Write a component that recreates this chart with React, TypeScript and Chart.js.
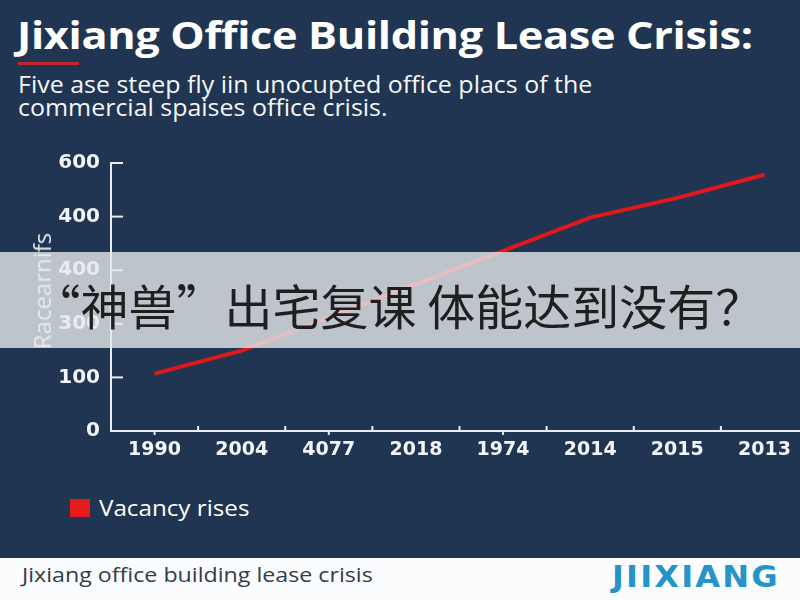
import React, { useEffect, useRef } from "react";
import { Chart, registerables } from "chart.js";

Chart.register(...registerables);

const categories = ["1990", "2004", "4077", "2018", "1974", "2014", "2015", "2013"];
const yTickLabels = ["0", "100", "300", "400", "400", "600"];
const vacancyRises = [1.07, 1.5, 2.12, 2.74, 3.36, 3.98, 4.35, 4.78];

const NAVY = "#1f3551";
const AXIS = "#e9edf2";

const innerTicks = {
  id: "innerTicks",
  afterDraw(chart: any) {
    const { ctx } = chart;
    const xs = chart.scales.x;
    const ys = chart.scales.y;
    ctx.save();
    ctx.strokeStyle = AXIS;
    ctx.lineWidth = 2;
    ys.ticks.forEach((t: any) => {
      const y = ys.getPixelForValue(t.value);
      ctx.beginPath();
      ctx.moveTo(xs.left, y);
      ctx.lineTo(xs.left + 12, y);
      ctx.stroke();
    });
    const bottom = xs.top;
    for (let i = 0; i < categories.length - 1; i++) {
      const x = (xs.getPixelForValue(i) + xs.getPixelForValue(i + 1)) / 2;
      ctx.beginPath();
      ctx.moveTo(x, bottom);
      ctx.lineTo(x, bottom - 5);
      ctx.stroke();
    }
    for (let i = 0; i <= 4; i += 2) {
      const x = xs.getPixelForValue(i);
      ctx.beginPath();
      ctx.moveTo(x, bottom);
      ctx.lineTo(x, bottom + 4);
      ctx.stroke();
    }
    ctx.restore();
  },
};

function LineChart() {
  const ref = useRef<HTMLCanvasElement | null>(null);
  useEffect(() => {
    if (!ref.current) return;
    const chart = new Chart(ref.current, {
      type: "line",
      data: {
        labels: categories,
        datasets: [
          {
            label: "Vacancy rises",
            data: vacancyRises,
            borderColor: "#e3161b",
            backgroundColor: "#e3161b",
            borderWidth: 4,
            pointRadius: 0,
            tension: 0,
          },
        ],
      },
      options: {
        animation: false,
        responsive: true,
        maintainAspectRatio: false,
        layout: { padding: { top: 22, right: 0, left: 0, bottom: 0 } },
        plugins: { legend: { display: false }, tooltip: { enabled: false } },
        scales: {
          x: {
            offset: true,
            grid: { display: false, drawTicks: false },
            border: { display: true, color: AXIS, width: 2 },
            ticks: {
              color: "#f2f4f7",
              padding: 8,
              font: { family: "DejaVu Sans", weight: "bold", size: 19 },
              maxRotation: 0,
              autoSkip: false,
            },
            afterFit(scale: any) {
              scale.height = 39;
            },
          },
          y: {
            min: 0,
            max: 5,
            grid: { display: false, drawTicks: false },
            border: { display: true, color: AXIS, width: 2 },
            ticks: {
              stepSize: 1,
              color: "#f2f4f7",
              padding: 11,
              font: { family: "DejaVu Sans", weight: "bold", size: 20 },
              callback: (v: any) => yTickLabels[v as number] ?? "",
            },
            afterFit(scale: any) {
              scale.width = 111;
            },
          },
        },
      },
      plugins: [innerTicks],
    });
    return () => chart.destroy();
  }, []);
  return <canvas ref={ref} />;
}

export default function App() {
  return (
    <div
      style={{
        position: "fixed",
        left: 0,
        top: 0,
        width: 800,
        height: 600,
        background: NAVY,
        overflow: "hidden",
        fontFamily: "'Open Sans', sans-serif",
      }}
    >
      <div
        style={{
          position: "absolute",
          left: 17,
          top: 15,
          color: "#ffffff",
          fontWeight: 700,
          fontSize: 37,
          lineHeight: "40px",
          whiteSpace: "nowrap",
          letterSpacing: "-0.3px",
          transform: "scaleX(1.17)",
          transformOrigin: "left top",
        }}
      >
        Jixiang Office Building Lease Crisis:
      </div>
      <div style={{ position: "absolute", left: 18, top: 62, width: 61, height: 3, background: "#c3262c" }} />
      <div
        style={{
          position: "absolute",
          left: 18,
          top: 73,
          color: "#f4f6f8",
          fontSize: 23,
          lineHeight: "23px",
          whiteSpace: "nowrap",
          transform: "scaleX(1.085)",
          transformOrigin: "left top",
        }}
      >
        Five ase steep fly iin unocupted office placs of the
        <br />
        commercial spaises office crisis.
      </div>

      <div style={{ position: "absolute", left: 0, top: 140, width: 808, height: 330 }}>
        <LineChart />
      </div>

      <div
        style={{
          position: "absolute",
          left: 42,
          top: 291,
          transform: "translate(-50%, -50%) rotate(-90deg)",
          color: "#e6eaef",
          fontSize: 24,
          lineHeight: "26px",
          whiteSpace: "nowrap",
        }}
      >
        Racearnifs
      </div>

      <div style={{ position: "absolute", left: 70, top: 499, width: 20, height: 18, background: "#e51b1b" }} />
      <div
        style={{
          position: "absolute",
          left: 99,
          top: 493,
          color: "#ffffff",
          fontSize: 22,
          lineHeight: "28px",
          whiteSpace: "nowrap",
          transform: "scaleX(1.1)",
          transformOrigin: "left top",
        }}
      >
        Vacancy rises
      </div>

      <div
        style={{
          position: "absolute",
          left: 0,
          top: 252,
          width: 800,
          height: 96,
          background: "rgba(230,232,235,0.8)",
          display: "flex",
          alignItems: "center",
          justifyContent: "center",
        }}
      >
        <span
          style={{
            fontFamily: "'Noto Sans CJK SC', sans-serif",
            fontSize: 48,
            color: "#1f1f1f",
            lineHeight: "52px",
            marginTop: 8,
            marginLeft: -4,
            whiteSpace: "nowrap",
          }}
        >
          “神兽”出宅复课 体能达到没有？
        </span>
      </div>

      <div style={{ position: "absolute", left: 0, top: 558, width: 800, height: 42, background: "#fbfcfd" }}>
        <div
          style={{
            position: "absolute",
            left: 22,
            top: 4,
            color: "#333c48",
            fontSize: 20,
            lineHeight: "26px",
            whiteSpace: "nowrap",
            transform: "scaleX(1.16)",
            transformOrigin: "left top",
          }}
        >
          Jixiang office building lease crisis
        </div>
        <div
          style={{
            position: "absolute",
            left: 612,
            top: 2,
            color: "#2794c8",
            fontFamily: "'DejaVu Sans', sans-serif",
            fontWeight: 700,
            fontSize: 30,
            lineHeight: "34px",
            letterSpacing: "2px",
            whiteSpace: "nowrap",
            transform: "scaleX(1.07)",
            transformOrigin: "left top",
          }}
        >
          JIIXIANG
        </div>
      </div>
    </div>
  );
}
